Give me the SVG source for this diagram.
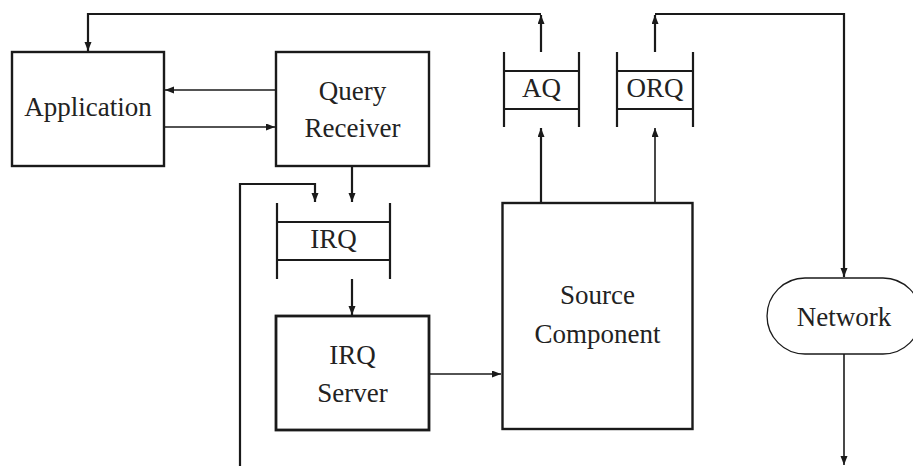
<svg xmlns="http://www.w3.org/2000/svg" width="913" height="466" viewBox="0 0 913 466">
<style>
.box{fill:#fff;stroke:#1a1a1a;stroke-width:2.4}
.q{fill:none;stroke:#1a1a1a;stroke-width:2.2}
.ql{fill:none;stroke:#1a1a1a;stroke-width:1.8}
.c{fill:none;stroke:#1a1a1a;stroke-width:2.2}
.cs{fill:none;stroke:#1a1a1a;stroke-width:1.6}
.t{font-family:"Liberation Serif","Times New Roman",serif;font-size:27px;fill:#222;text-anchor:middle}
</style>
<defs>
<marker id="ah" markerUnits="userSpaceOnUse" markerWidth="10" markerHeight="8" refX="9" refY="3.5" orient="auto">
<path d="M0,0 L9,3.5 L0,7 z" fill="#1a1a1a"/>
</marker>
</defs>
<g id="connectors">
<path class="c" d="M541,52 L541,15" marker-end="url(#ah)"/>
<path class="c" d="M541,14 L88,14 L88,51" marker-end="url(#ah)"/>
<path class="c" d="M655,52 L655,15" marker-end="url(#ah)"/>
<path class="c" d="M655,14 L844,14 L844,277" marker-end="url(#ah)"/>
<path class="cs" d="M844,354 L844,465" marker-end="url(#ah)"/>
<path class="c" d="M541,203 L541,128" marker-end="url(#ah)"/>
<path class="cs" d="M655,203 L655,128" marker-end="url(#ah)"/>
<path class="cs" d="M276,90 L165,90" marker-end="url(#ah)"/>
<path class="cs" d="M164,127 L275,127" marker-end="url(#ah)"/>
<path class="c" d="M352,166 L352,202" marker-end="url(#ah)"/>
<path class="c" d="M240,466 L240,184 L315,184 L315,202" marker-end="url(#ah)"/>
<path class="c" d="M352,279 L352,315" marker-end="url(#ah)"/>
<path class="cs" d="M429,374 L501,374" marker-end="url(#ah)"/>
</g>
<g id="application">
<rect class="box" x="12" y="52" width="152" height="114"/>
<text class="t" x="88" y="116">Application</text>
</g>
<g id="query-receiver">
<rect class="box" x="276" y="52" width="153" height="114"/>
<text class="t" x="352.5" y="100">Query</text>
<text class="t" x="352.5" y="137">Receiver</text>
</g>
<g id="aq">
<path class="q" d="M504,52 V127 M579,52 V127"/>
<path class="ql" d="M504,71 H579 M504,109 H579"/>
<text class="t" x="541.5" y="97">AQ</text>
</g>
<g id="orq">
<path class="q" d="M617,52 V127 M693,52 V127"/>
<path class="ql" d="M617,71 H693 M617,109 H693"/>
<text class="t" x="655" y="97">ORQ</text>
</g>
<g id="irq">
<path class="q" d="M277,203 V279 M390,203 V279"/>
<path class="ql" d="M277,222 H390 M277,260 H390"/>
<text class="t" x="333.5" y="248">IRQ</text>
</g>
<g id="irq-server">
<rect class="box" x="276" y="316" width="153" height="114" style="stroke-width:2.8"/>
<text class="t" x="352.5" y="364">IRQ</text>
<text class="t" x="352.5" y="402">Server</text>
</g>
<g id="source-component">
<rect class="box" x="502.5" y="203" width="190" height="226"/>
<text class="t" x="597.5" y="304">Source</text>
<text class="t" x="597.5" y="343">Component</text>
</g>
<g id="network">
<path d="M805,278 L883,278 A38,38 0 0 1 883,354 L805,354 A38,38 0 0 1 805,278 Z" fill="#fff" stroke="#1a1a1a" stroke-width="1.3"/>
<text class="t" x="844" y="326">Network</text>
</g>
</svg>
